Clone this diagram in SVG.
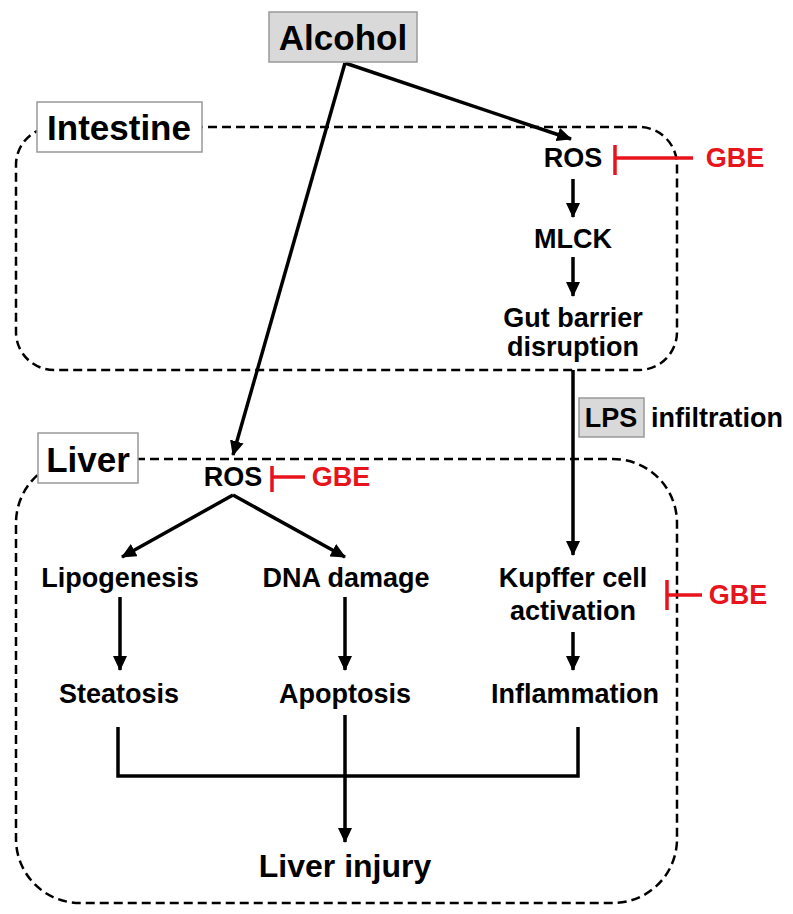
<svg xmlns="http://www.w3.org/2000/svg" width="793" height="914" viewBox="0 0 793 914">
<style>
text{font-family:"Liberation Sans",Arial,sans-serif;font-weight:bold;fill:#000;text-anchor:middle}
.t{font-size:27px}
.big{font-size:35px}
.red{fill:#e8141c;font-size:27px}
.region{fill:none;stroke:#000;stroke-width:2.5;stroke-dasharray:9 5}
.lbl{fill:#fff;stroke:#999;stroke-width:1.5}
.gray{fill:#d9d9d9;stroke:#999;stroke-width:1.5}
.c{fill:none;stroke:#000;stroke-width:3.5}
.inh{fill:none;stroke:#e8141c;stroke-width:3.5}
</style>
<defs>
<marker id="ah" markerUnits="userSpaceOnUse" markerWidth="16" markerHeight="14" refX="14" refY="7" orient="auto">
<path d="M0,0 L15,7 L0,14 z" fill="#000"/>
</marker>
</defs>
<g id="regions">
<rect id="intestine-region" class="region" x="16" y="127" width="661" height="243" rx="38" ry="38"/>
<rect id="liver-region" class="region" x="16" y="459" width="661" height="444" rx="64" ry="64"/>
</g>
<g id="connectors">
<line class="c" x1="345" y1="63" x2="571" y2="139" marker-end="url(#ah)"/>
<line class="c" x1="345" y1="63" x2="233" y2="455" marker-end="url(#ah)"/>
<line class="c" x1="573" y1="179" x2="573" y2="217" marker-end="url(#ah)"/>
<line class="c" x1="573" y1="257" x2="573" y2="296" marker-end="url(#ah)"/>
<line class="c" x1="573" y1="370" x2="573" y2="555" marker-end="url(#ah)"/>
<line class="c" x1="233" y1="495" x2="122" y2="557" marker-end="url(#ah)"/>
<line class="c" x1="233" y1="495" x2="345" y2="557" marker-end="url(#ah)"/>
<line class="c" x1="120" y1="597" x2="120" y2="670" marker-end="url(#ah)"/>
<line class="c" x1="345" y1="597" x2="345" y2="670" marker-end="url(#ah)"/>
<line class="c" x1="573" y1="632" x2="573" y2="670" marker-end="url(#ah)"/>
<polyline class="c" points="118,727 118,776 578,776 578,727"/>
<line class="c" x1="345" y1="715" x2="345" y2="842" marker-end="url(#ah)"/>
<path class="inh" d="M693,158 H615 M615,145 V175"/>
<path class="inh" d="M305,477 H272 M272,466 V492"/>
<path class="inh" d="M702,595 H667 M667,580 V610"/>
</g>
<g id="alcohol">
<rect class="gray" x="269" y="12" width="148" height="50"/>
<text class="big" x="343" y="50">Alcohol</text>
</g>
<g id="intestine-label">
<rect class="lbl" x="37" y="102" width="165" height="50"/>
<text class="big" x="119" y="140">Intestine</text>
</g>
<g id="liver-label">
<rect class="lbl" x="38" y="433" width="100" height="50"/>
<text class="big" x="88" y="472">Liver</text>
</g>
<g id="ros-intestine"><text class="t" x="573" y="167">ROS</text></g>
<g id="gbe-intestine"><text class="red" x="735" y="167">GBE</text></g>
<g id="mlck"><text class="t" x="573" y="248">MLCK</text></g>
<g id="gut-barrier"><text class="t" x="573" y="327">Gut barrier</text><text class="t" x="573" y="356">disruption</text></g>
<g id="lps">
<rect class="gray" x="579" y="398" width="65" height="39"/>
<text class="t" x="611" y="427">LPS</text>
<text class="t" x="717" y="427">infiltration</text>
</g>
<g id="ros-liver"><text class="t" x="233" y="486">ROS</text></g>
<g id="gbe-liver"><text class="red" x="341" y="486">GBE</text></g>
<g id="lipogenesis"><text class="t" x="120" y="587">Lipogenesis</text></g>
<g id="dna-damage"><text class="t" x="346" y="587">DNA damage</text></g>
<g id="kupffer"><text class="t" x="573" y="587">Kupffer cell</text><text class="t" x="573" y="620">activation</text></g>
<g id="gbe-kupffer"><text class="red" x="738" y="604">GBE</text></g>
<g id="steatosis"><text class="t" x="119" y="703">Steatosis</text></g>
<g id="apoptosis"><text class="t" x="345" y="703">Apoptosis</text></g>
<g id="inflammation"><text class="t" x="575" y="703">Inflammation</text></g>
<g id="liver-injury"><text style="font-size:32px" x="345" y="877">Liver injury</text></g>
</svg>
